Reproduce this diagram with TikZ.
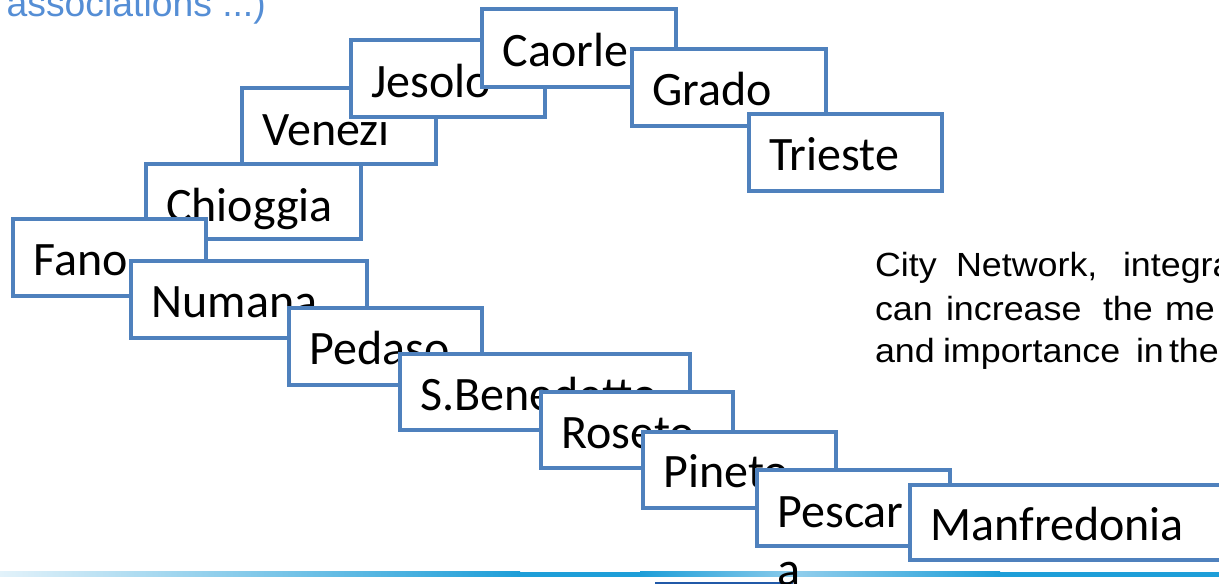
\documentclass[tikz,border=0pt]{standalone}
\usepackage{fontspec}
\setmainfont{Carlito}
\newfontfamily\arialf[FakeStretch=1.07]{Liberation Sans}
\newfontfamily\arialh{Liberation Sans}
\definecolor{boxblue}{HTML}{4F81BD}
\definecolor{headblue}{HTML}{558ED5}
\definecolor{linesat}{HTML}{1E9ED8}
\definecolor{linepale}{HTML}{E2F2FA}
\definecolor{linemid}{HTML}{8FCDEC}
\definecolor{darkline}{HTML}{2159A8}
\tikzset{
  cbox/.style={draw=boxblue, line width=4.8pt, fill=white, anchor=north west,
    inner sep=0pt, outer sep=0pt, minimum height=77pt},
  ctext/.style={anchor=base west, inner sep=0pt, outer sep=0pt,
    font=\fontsize{48}{58}\selectfont},
  ptext/.style={anchor=base west, inner sep=0pt, outer sep=0pt,
    font=\arialf\fontsize{33.5}{40}\selectfont},
  htext/.style={anchor=base west, inner sep=0pt, outer sep=0pt, text=headblue,
    font=\arialh\fontsize{37.3}{44}\selectfont},
}
\begin{document}
\begin{tikzpicture}[x=1pt,y=-1pt]
\useasboundingbox (0,0) rectangle (1219,584);
% heading remnant
\node[htext] (head) at (6.7,16) {associations ...)};
% bottom rules
\shade[left color=linepale, right color=linesat] (0,571.5) rectangle (520,576.5);
\fill[linesat] (520,571.5) rectangle (640,576.5);
\shade[left color=linesat, right color=linemid] (640,571.5) rectangle (800,576.5);
\shade[left color=linemid, right color=linesat] (800,571.5) rectangle (1000,576.5);
\fill[linesat] (1000,571.5) rectangle (1219,576.5);
\fill[darkline] (655,581.5) rectangle (793,586);
% upper chain
\node[cbox, minimum width=194pt, minimum height=76pt] (venezia) at (242,88) {};
\node[ctext] (tvenezia) at ([xshift=20.5pt,yshift=-57pt]venezia.north west) {\vtop{\hbox{Venezi}\hbox{a}}};
\node[cbox, minimum width=194pt] (jesolo) at (351,40) {};
\node[ctext] (tjesolo) at ([xshift=20.5pt,yshift=-57pt]jesolo.north west) {Jesolo};
\node[cbox, minimum width=194pt, minimum height=78pt] (caorle) at (482,9) {};
\node[ctext] (tcaorle) at ([xshift=20.5pt,yshift=-57.5pt]caorle.north west) {Caorle};
\node[cbox, minimum width=194pt] (grado) at (632,49) {};
\node[ctext] (tgrado) at ([xshift=20.5pt,yshift=-56.5pt]grado.north west) {Grado};
\node[cbox, minimum width=193pt] (trieste) at (749,114) {};
\node[ctext] (ttrieste) at ([xshift=20.5pt,yshift=-56.5pt]trieste.north west) {Trieste};
% lower chain
\node[cbox, minimum width=215pt, minimum height=75pt] (chioggia) at (146,164) {};
\node[ctext] (tchioggia) at ([xshift=20pt,yshift=-57.5pt]chioggia.north west) {Chioggia};
\node[cbox, minimum width=193pt] (fano) at (13,219) {};
\node[ctext] (tfano) at ([xshift=20.5pt,yshift=-56.5pt]fano.north west) {Fano};
\node[cbox, minimum width=236pt] (numana) at (131,261) {};
\node[ctext] (tnumana) at ([xshift=20.5pt,yshift=-56.5pt]numana.north west) {Numana};
\node[cbox, minimum width=193pt] (pedaso) at (289,308) {};
\node[ctext] (tpedaso) at ([xshift=20.5pt,yshift=-56pt]pedaso.north west) {Pedaso};
\node[cbox, minimum width=290pt, minimum height=76pt] (sbenedetto) at (400,354) {};
\node[ctext] (tsbenedetto) at ([xshift=20pt,yshift=-56.5pt]sbenedetto.north west) {S.Benedetto};
\node[cbox, minimum width=192pt, minimum height=76pt] (roseto) at (541,392) {};
\node[ctext] (troseto) at ([xshift=20.5pt,yshift=-56.5pt]roseto.north west) {Roseto};
\node[cbox, minimum width=193pt, minimum height=76pt] (pineto) at (643,432) {};
\node[ctext] (tpineto) at ([xshift=20.5pt,yshift=-55.5pt]pineto.north west) {Pineto};
\node[cbox, minimum width=193pt, minimum height=76pt] (pescara) at (757,470) {};
\node[ctext] (tpescara) at ([xshift=20.5pt,yshift=-57pt]pescara.north west) {\vtop{\hbox{Pescar}\hbox{a}}};
\node[cbox, minimum width=316pt, minimum height=75pt] (manfredonia) at (910,485) {};
\node[ctext] (tmanfredonia) at ([xshift=20.5pt,yshift=-55.5pt]manfredonia.north west) {Manfredonia};
% paragraph remnant
\node[ptext] (w11) at (875,276.5) {City};
\node[ptext] (w12) at (956,276.5) {Network,};
\node[ptext] (w13) at (1123,276.5) {integra};
\node[ptext] (w21) at (875,320.5) {can};
\node[ptext] (w22) at (946,320.5) {increase};
\node[ptext] (w23) at (1103,320.5) {the};
\node[ptext] (w24) at (1165,320.5) {me};
\node[ptext] (w31) at (875,362) {and};
\node[ptext] (w32) at (943,362) {importance};
\node[ptext] (w33) at (1136,362) {in};
\node[ptext] (w34) at (1169,362) {the};
\end{tikzpicture}
\end{document}
